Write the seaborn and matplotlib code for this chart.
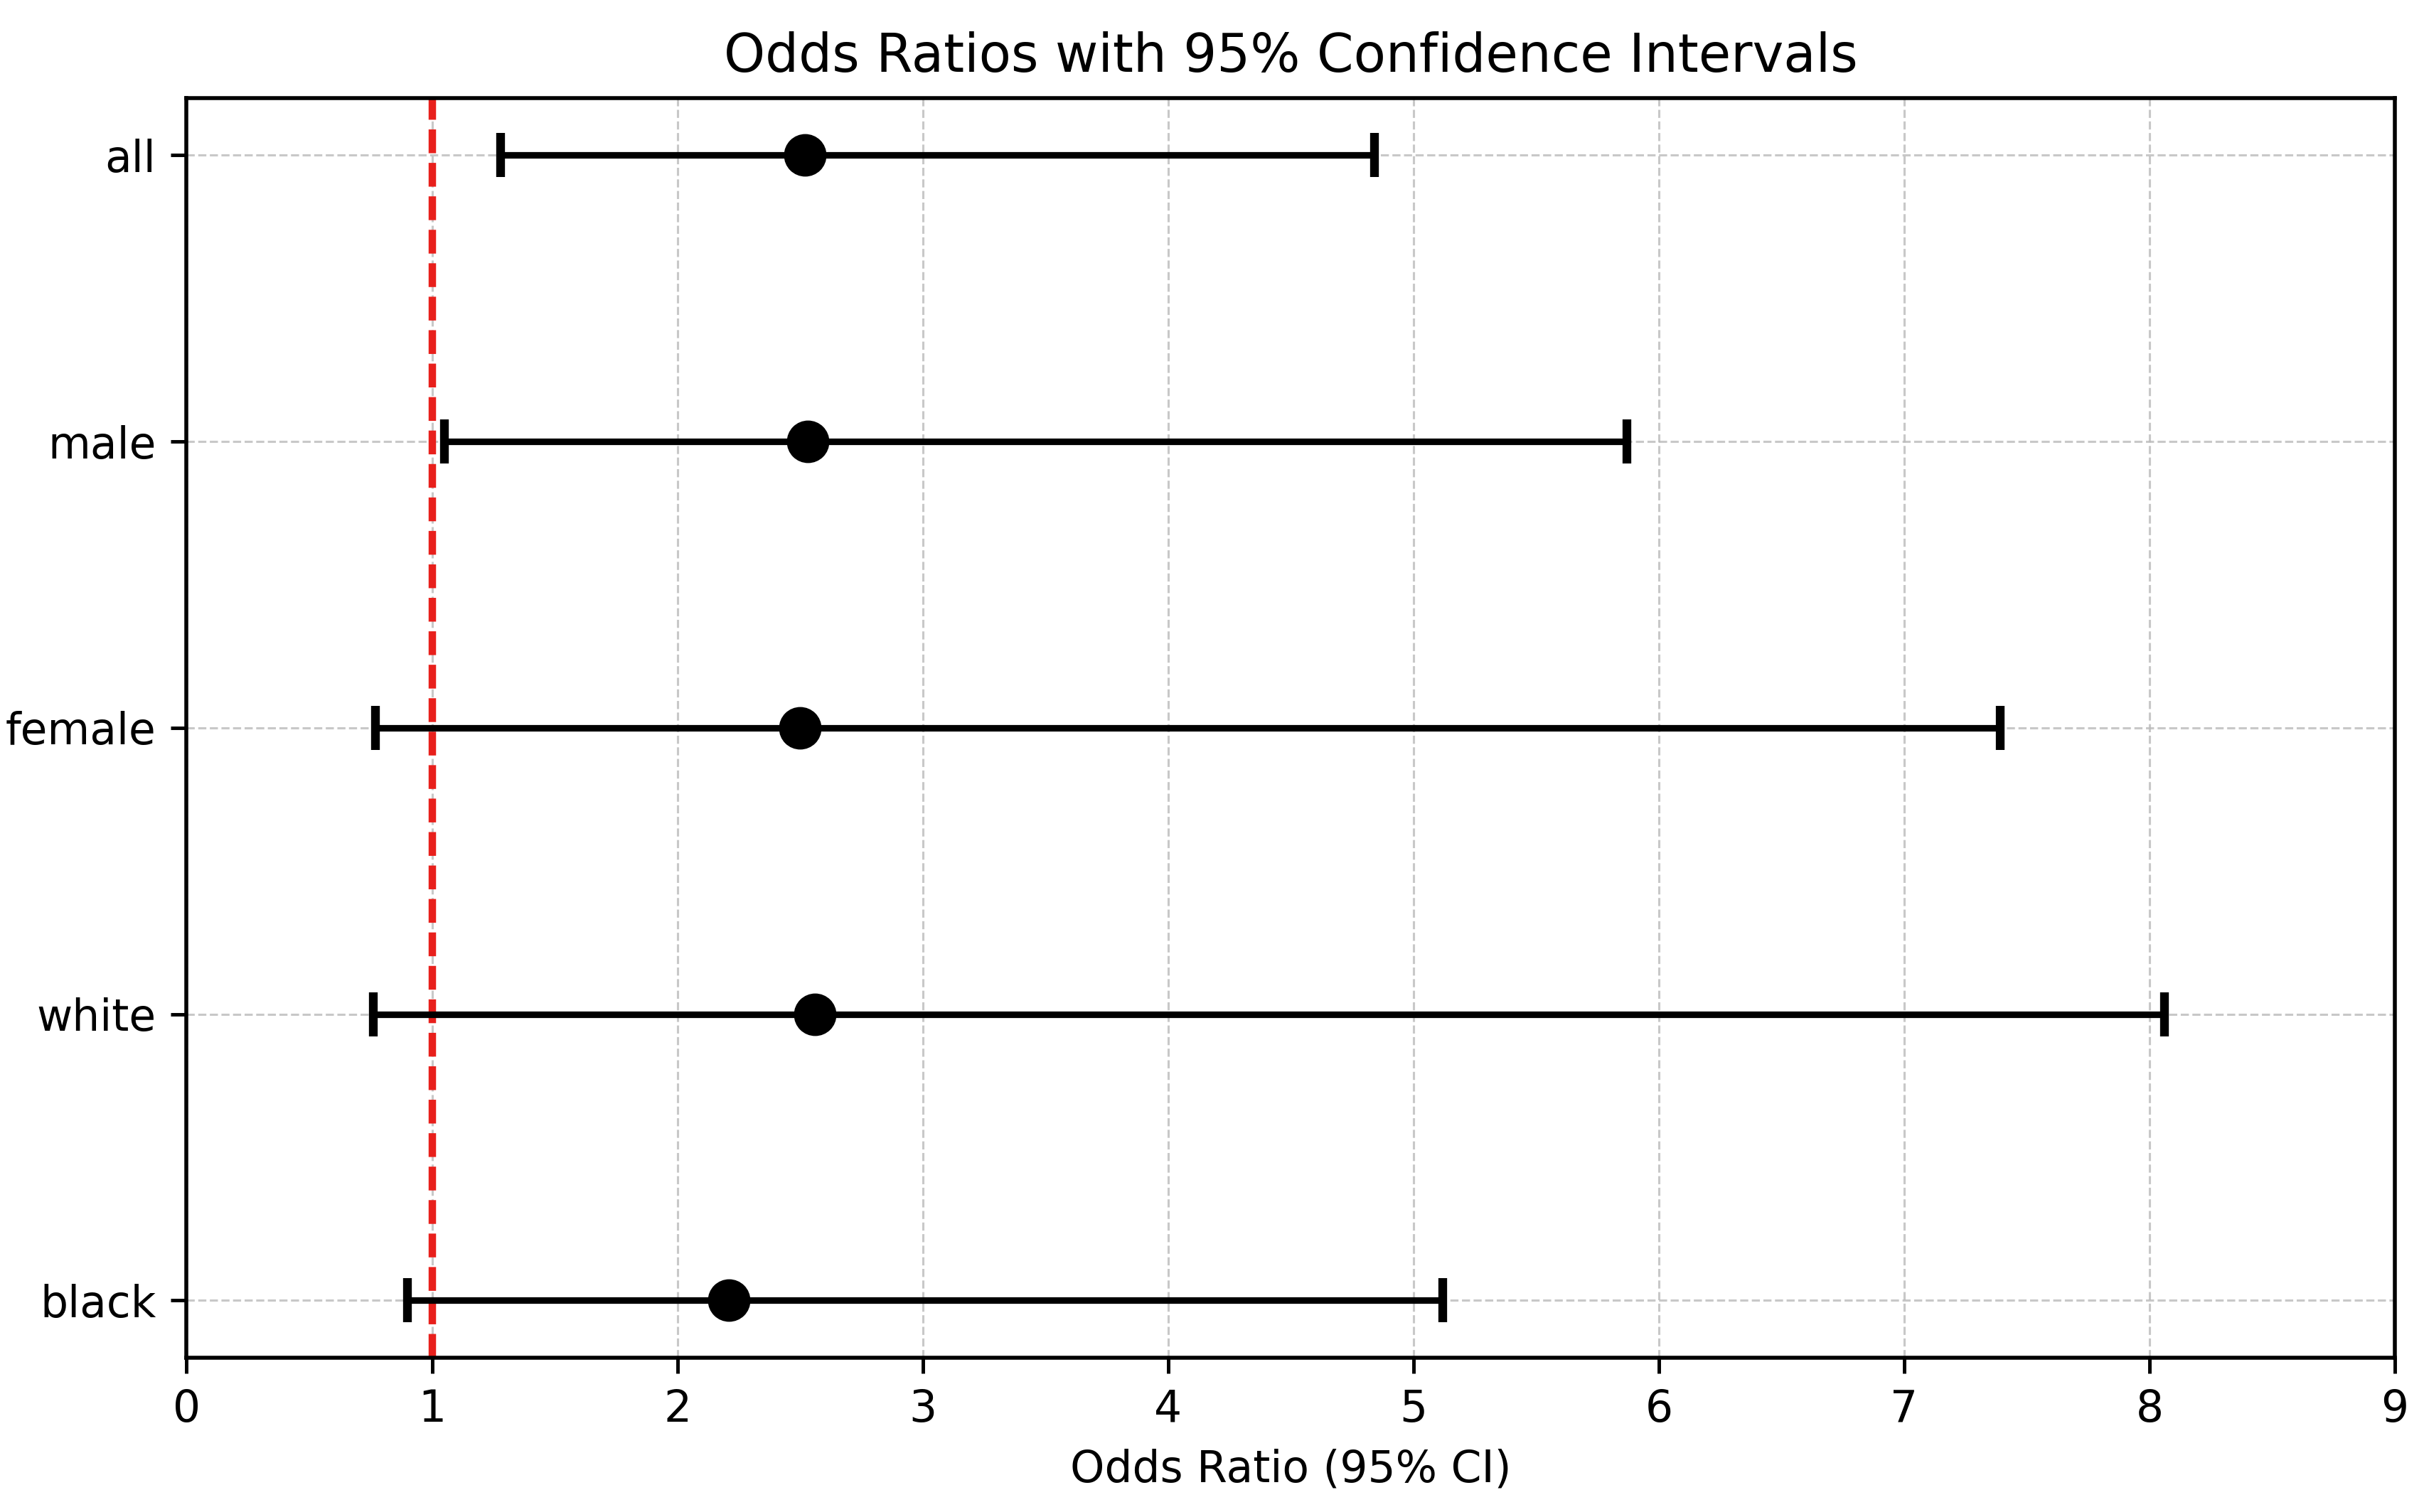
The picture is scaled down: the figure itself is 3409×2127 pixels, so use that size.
import pandas as pd
import matplotlib
matplotlib.use("Agg")
import matplotlib.pyplot as plt
import seaborn as sns

# ---------------- data ----------------
groups = ['all', 'male', 'female', 'white', 'black']
odds_ratio = [2.52, 2.53, 2.50, 2.56, 2.21]
ci_lower = [1.28, 1.05, 0.77, 0.76, 0.90]
ci_upper = [4.84, 5.87, 7.39, 8.06, 5.12]

df = pd.DataFrame({'group': groups, 'OR': odds_ratio,
                   'lo': ci_lower, 'hi': ci_upper})
df['err_lo'] = df['OR'] - df['lo']
df['err_hi'] = df['hi'] - df['OR']

# ---------------- style ----------------
sns.set_style("ticks")
plt.rcParams['font.family'] = ['DejaVu Sans']
plt.rcParams['axes.edgecolor'] = 'black'
plt.rcParams['xtick.color'] = 'black'
plt.rcParams['ytick.color'] = 'black'
plt.rcParams['text.color'] = 'black'
plt.rcParams['axes.labelcolor'] = 'black'

fig, ax = plt.subplots(figsize=(3409 / 443, 2127 / 443), dpi=443)
fig.subplots_adjust(left=0.077, right=0.988, top=0.9353, bottom=0.102)

# confidence intervals
ax.errorbar(df['OR'], df['group'], xerr=[df['err_lo'], df['err_hi']],
            fmt='none', ecolor='black', elinewidth=1.5, capsize=5,
            capthick=2, zorder=3)

# point estimates
sns.scatterplot(data=df, x='OR', y='group', ax=ax, color='black',
                s=85, edgecolor='black', linewidth=0.5, zorder=4,
                legend=False)

# reference line at OR = 1
ax.axvline(1, color='#e8201c', linestyle=(0, (3.2, 1.3)), linewidth=1.7,
           zorder=2)

ax.set_xlim(0, 9)
ax.set_xticks(range(0, 10))
ax.set_ylim(4.2, -0.2)
ax.grid(True, linestyle='--', linewidth=0.5, color='#bbbbbb', alpha=0.8)
ax.set_axisbelow(True)

for sp in ax.spines.values():
    sp.set_linewidth(0.9)
    sp.set_color('black')
ax.tick_params(axis='both', labelsize=10, width=0.8, length=3.5)

ax.set_title('Odds Ratios with 95% Confidence Intervals', fontsize=12)
ax.set_xlabel('Odds Ratio (95% CI)', fontsize=10)
ax.set_ylabel('')

plt.savefig('out.png', dpi=443)
